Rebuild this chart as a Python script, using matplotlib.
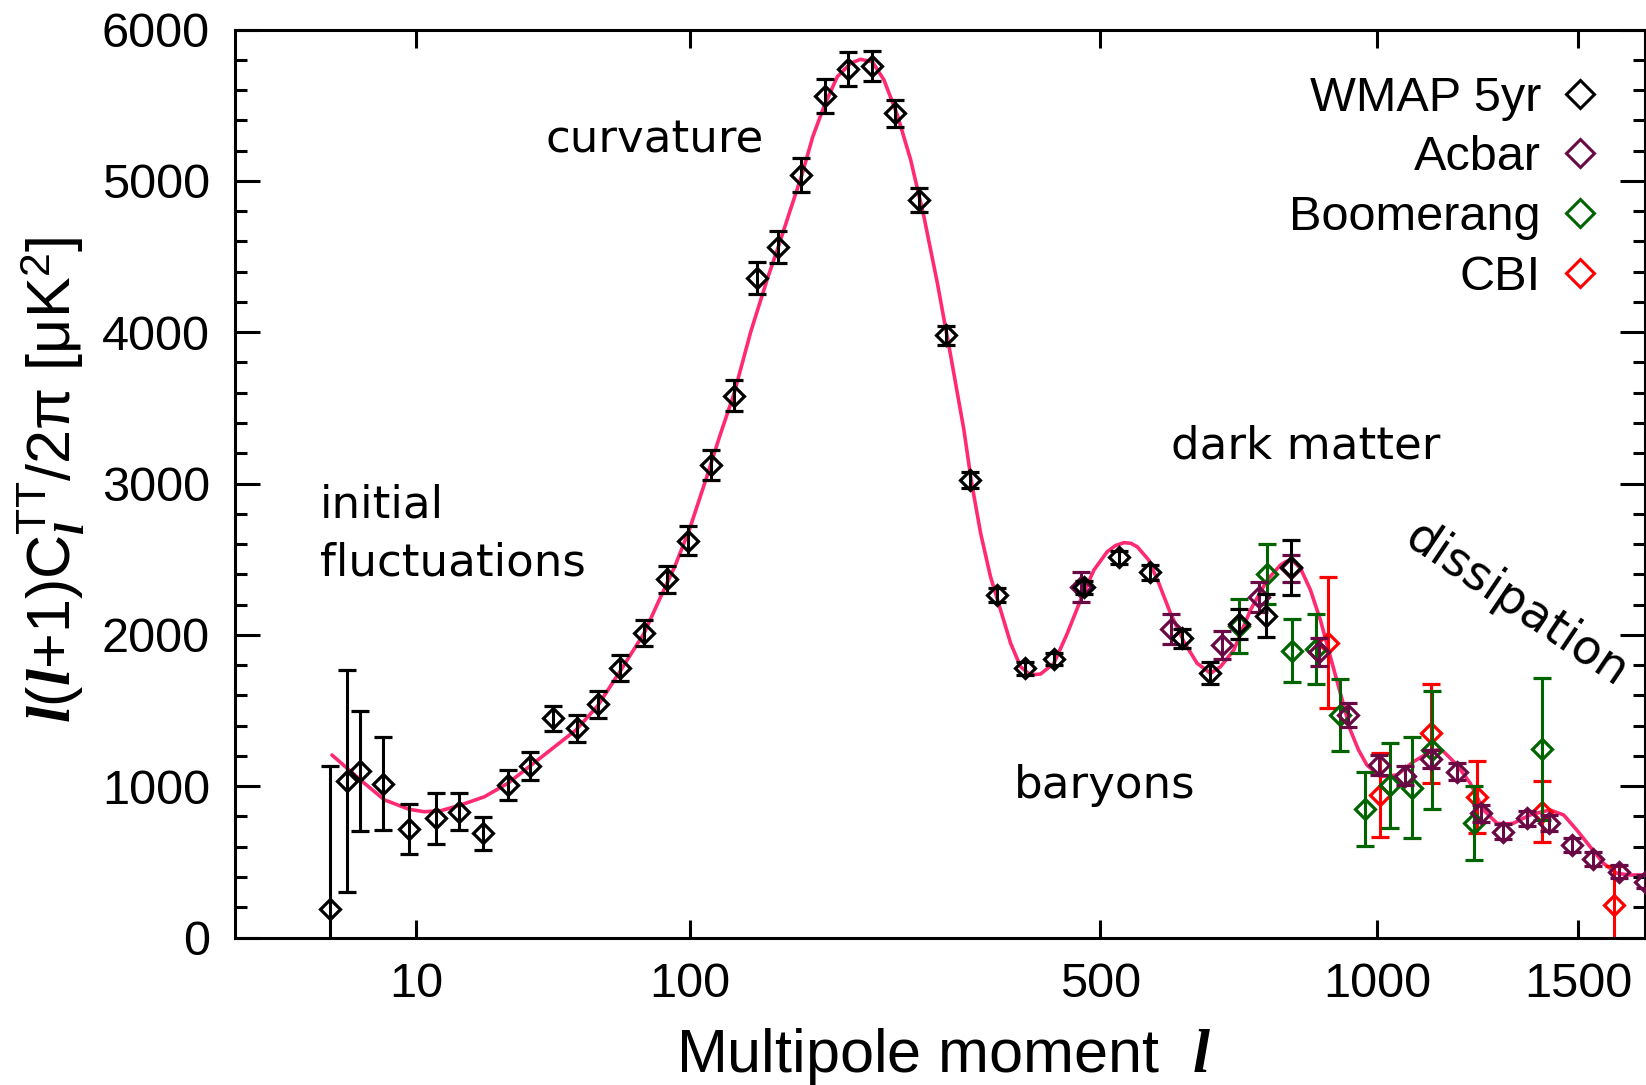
import numpy as np
import matplotlib
matplotlib.use("Agg")
import matplotlib.pyplot as plt
from matplotlib.lines import Line2D
from matplotlib.ticker import FixedLocator, MultipleLocator

# ---- binned band powers: multipole l, l(l+1)C_l/2pi [uK^2], 1-sigma error ----
wmap_l = [2, 3, 4, 6, 9, 13, 17, 22, 28, 34, 41, 49, 57, 66, 77, 88, 99, 112,
          126, 141, 156, 173, 192, 211, 232, 254, 278, 306, 332, 364, 398, 436,
          476, 527, 574, 626, 674, 725, 775, 822]
wmap_D = [186, 1034, 1102, 1016, 715, 788, 831, 688, 1008, 1135, 1448, 1382,
          1541, 1783, 2010, 2366, 2622, 3122, 3580, 4356, 4561, 5039, 5561, 5739,
          5759, 5446, 4873, 3981, 3023, 2263, 1779, 1840, 2314, 2512, 2413, 1977,
          1746, 2072, 2127, 2446]
wmap_err = [950, 735, 397, 306, 166, 168, 122, 107, 100, 94, 83, 88, 90, 85, 86,
            90, 95, 100, 102, 105, 105, 110, 115, 110, 102, 88, 77, 63, 55, 48,
            42, 42, 45, 45, 48, 64, 72, 102, 143, 182]

acbar_l = [472, 608, 695, 761, 822, 877, 937, 1004, 1063, 1122, 1184, 1243,
           1299, 1362, 1420, 1482, 1542, 1617, 1694]
acbar_D = [2318, 2041, 1935, 2248, 2440, 1886, 1470, 1140, 1070, 1182, 1096,
           821, 699, 788, 757, 611, 517, 435, 369]
acbar_err = [99, 99, 92, 98, 88, 94, 77, 69, 60, 60, 55, 55, 50, 50, 50, 45,
             45, 45, 45]

boom_l = [724, 776, 824, 871, 921, 975, 1028, 1078, 1126, 1226, 1401]
boom_D = [2058, 2402, 1895, 1904, 1470, 847, 1005, 990, 1239, 757, 1244]
boom_err = [176, 198, 209, 231, 236, 245, 281, 333, 391, 246, 468]

cbi_l = [896, 1006, 1122, 1233, 1401, 1601]
cbi_D = [1948, 940, 1349, 930, 831, 218]
cbi_err = [433, 277, 328, 237, 200, 253]

# ---- best-fit model spectrum ----
model_l = [2.1, 4, 6.2, 9.1, 11.2, 13.8, 17.4, 22.3, 27.9, 33.7, 40.8, 48.7,
           56.8, 65.9, 76.8, 84.1, 92, 100, 109.1, 117, 126.3, 137, 148.5, 156,
           165, 174, 182, 191, 202, 213.5, 222, 232.7, 243.5, 256.2, 269.3,
           282.7, 296.7, 310.8, 325.5, 334, 344.5, 356, 368, 380.2, 392.5, 405,
           418, 435.5, 453.5, 471.8, 490.6, 509.8, 522, 534.5, 545, 554.8,
           572.7, 588.7, 607.4, 629.3, 651.5, 674.4, 691.8, 715.5, 745.6, 776.7,
           801.8, 813, 824.3, 840.8, 860.7, 880.7, 901, 921.8, 942.7, 960, 978,
           1007.5, 1044.5, 1082, 1121, 1137, 1152.5, 1184.5, 1217, 1250, 1283.6,
           1305, 1326, 1370, 1400, 1423.5, 1460, 1496.6, 1534, 1572, 1611,
           1649.6, 1694]
model_D = [1206, 1041, 909, 847, 831, 838, 876, 930, 1019, 1129, 1250, 1371,
           1530, 1756, 2010, 2230, 2450, 2700, 3023, 3300, 3596, 4000, 4356,
           4561, 4810, 5050, 5290, 5490, 5688, 5777, 5803, 5787, 5666, 5435,
           5138, 4763, 4323, 3849, 3354, 3010, 2671, 2384, 2164, 1944, 1789,
           1735, 1741, 1812, 2010, 2230, 2428, 2549, 2590, 2609, 2605, 2582,
           2494, 2340, 2142, 1955, 1812, 1746, 1789, 1900, 2164, 2362, 2461,
           2485, 2494, 2440, 2296, 2098, 1856, 1614, 1371, 1240, 1140, 1063,
           1074, 1162, 1228, 1240, 1228, 1140, 1019, 842, 755, 750, 755, 810,
           830, 842, 810, 710, 600, 490, 424, 413, 413]

x_ticks = [10, 100, 500, 1000, 1500]
y_ticks = [0, 1000, 2000, 3000, 4000, 5000, 6000]

series = [
    ("WMAP 5yr", wmap_l, wmap_D, wmap_err, "#000000"),
    ("Acbar", acbar_l, acbar_D, acbar_err, "#6a0a45"),
    ("Boomerang", boom_l, boom_D, boom_err, "#006400"),
    ("CBI", cbi_l, cbi_D, cbi_err, "#ff0000"),
]
draw_order = ["CBI", "Boomerang", "Acbar", "WMAP 5yr"]

plt.rcParams["font.family"] = ["Liberation Sans", "DejaVu Sans"]
plt.rcParams["mathtext.fontset"] = "custom"
plt.rcParams["mathtext.rm"] = "Liberation Sans"
plt.rcParams["mathtext.it"] = "Liberation Serif:italic:bold"
plt.rcParams["mathtext.bf"] = "Liberation Sans:bold"

W, H = 1646, 1085
fig = plt.figure(figsize=(W / 100, H / 100), dpi=100)
ax = fig.add_axes([235 / W, (H - 937.5) / H, 1410 / W, 908 / H])

# multipole axis: l^0.4 stretch
ax.set_xscale("function", functions=(lambda v: np.power(np.clip(v, 0, None), 0.4),
                                     lambda v: np.power(np.clip(v, 0, None), 2.5)))
ax.set_xlim(0, 1694)
ax.set_ylim(0, 6000)

ax.plot(model_l, model_D, color="#ff2a72", lw=2.6, zorder=1, solid_capstyle="round")

by_name = {s[0]: s for s in series}
for z, name in enumerate(draw_order):
    _, ls, ds, es, c = by_name[name]
    ax.errorbar(ls, ds, yerr=es, fmt="D", ms=10, mfc="none", mec=c, mew=2.3,
                color=c, ecolor=c, elinewidth=2.2, capsize=6.5, capthick=2.2,
                zorder=2 + z)

handles = [Line2D([], [], ls="none", marker="D", ms=14, mfc="none", mec=c, mew=2.2)
           for (_, _, _, _, c) in series]
ax.legend(handles, [s[0] for s in series], loc="upper right",
          bbox_to_anchor=(0.971, 0.949), frameon=False, markerfirst=False,
          fontsize=35, handlelength=1.0, handletextpad=0.3, labelspacing=0.3,
          borderpad=0, borderaxespad=0)

ax.xaxis.set_major_locator(FixedLocator(x_ticks))
ax.set_xticklabels([str(t) for t in x_ticks])
ax.yaxis.set_major_locator(FixedLocator(y_ticks))
ax.yaxis.set_minor_locator(MultipleLocator(200))
ax.xaxis.set_minor_locator(FixedLocator([]))

ax.tick_params(which="both", direction="in", top=True, right=True, width=2.2,
               labelsize=35, colors="black")
ax.tick_params(axis="x", which="major", length=13, pad=17.5)
ax.tick_params(axis="y", which="major", length=18, pad=18)
ax.tick_params(axis="y", which="minor", length=8.6)
for sp in ax.spines.values():
    sp.set_linewidth(2.2)

ax.set_xlabel(r"Multipole moment  $\mathit{l}$", fontsize=44)
ax.xaxis.set_label_coords(0.5025, -0.098)
ax.set_ylabel(r"$\mathit{l}$($\mathit{l}$+1)C$_{\mathit{l}}^{\mathrm{TT}}$/2π [μK$^{\mathrm{2}}$]",
              fontsize=44)
ax.yaxis.set_label_coords(-0.105, 0.504)

ann = dict(family=["DejaVu Sans"], transform=ax.transAxes)
ax.text(0.2975, 0.865, "curvature", ha="center", va="baseline", fontsize=32.5, **ann)
ax.text(0.0603, 0.4626, "initial", ha="left", va="baseline", fontsize=32.5, **ann)
ax.text(0.0603, 0.399, "fluctuations", ha="left", va="baseline", fontsize=32.5, **ann)
ax.text(0.759, 0.5273, "dark matter", ha="center", va="baseline", fontsize=32.5, **ann)
ax.text(0.617, 0.1539, "baryons", ha="center", va="baseline", fontsize=32.5, **ann)
ax.text(0.909, 0.367, "dissipation", ha="center", va="center", rotation=-34,
        rotation_mode="anchor", fontsize=34.5, **ann)

fig.savefig("out.png", dpi=100)
